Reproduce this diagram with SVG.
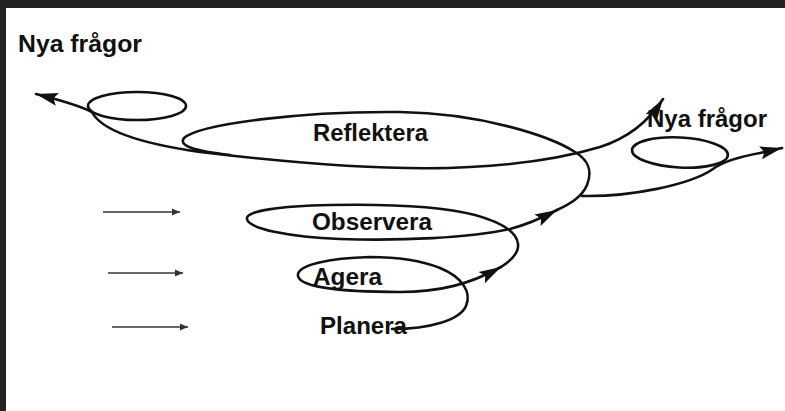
<svg xmlns="http://www.w3.org/2000/svg" width="785" height="411" viewBox="0 0 785 411">
<defs>
<style>
.lbl{font-family:"Liberation Sans",Arial,sans-serif;font-weight:bold;font-size:23px;fill:#111}
.sp{fill:none;stroke:#111;stroke-width:2.6;stroke-linecap:round}
.thin{fill:none;stroke:#333;stroke-width:1.6}
</style>
<marker id="ah" markerUnits="userSpaceOnUse" markerWidth="24" markerHeight="14" refX="22" refY="7" orient="auto">
<path d="M0,0.5 L22,7 L0,13.5 L4,7 Z" fill="#111"/>
</marker>
<marker id="sa" markerUnits="userSpaceOnUse" markerWidth="9" markerHeight="8" refX="8" refY="4" orient="auto">
<path d="M0,0.5 L8,4 L0,7.5 Z" fill="#333"/>
</marker>
</defs>
<rect x="0" y="0" width="785" height="411" fill="#fff"/>
<rect x="0" y="0" width="785" height="8" fill="#222"/>
<rect x="0" y="0" width="6" height="411" fill="#222"/>

<g id="text-nya-fragor-left"><text class="lbl" x="18" y="52" textLength="124" lengthAdjust="spacingAndGlyphs">Nya frågor</text></g>
<g id="node-reflektera"><text class="lbl" x="313" y="141" textLength="115" lengthAdjust="spacingAndGlyphs">Reflektera</text></g>
<g id="node-observera"><text class="lbl" x="312" y="230" textLength="120" lengthAdjust="spacingAndGlyphs">Observera</text></g>
<g id="node-agera"><text class="lbl" x="313" y="285" textLength="69" lengthAdjust="spacingAndGlyphs">Agera</text></g>
<g id="node-planera"><text class="lbl" x="320" y="334" textLength="87" lengthAdjust="spacingAndGlyphs">Planera</text></g>
<g id="text-nya-fragor-right"><text class="lbl" x="647" y="127" textLength="120" lengthAdjust="spacingAndGlyphs">Nya frågor</text></g>

<g id="connectors">
<path class="thin" d="M103,212 L180,212" marker-end="url(#sa)"/>
<path class="thin" d="M108,273 L183,273" marker-end="url(#sa)"/>
<path class="thin" d="M112,327 L188,327" marker-end="url(#sa)"/>

<path class="sp" d="M392,329 C430,329 460,320 466,306 C472,292 462,277 440,268 C420,260 395,257 370,257 C330,258 296,265 298,276 C300,287 340,292 400,292 C440,292 470,284 501,267" marker-end="url(#ah)"/>
<path class="sp" d="M501,267 C512,260 519,252 518,244 C517,232 500,222 475,215 C440,206 380,204 330,205 C280,206 245,211 247,219 C249,229 290,237 340,239 C400,241 470,238 510,229 C525,225 540,219 557,210" marker-end="url(#ah)"/>
<path class="sp" d="M557,210 C570,204 582,197 587,185 C593,170 588,160 575,152 C550,136 480,113 400,112 C300,111 200,124 184,138 C178,146 195,151 230,155"/>
<path class="sp" d="M92,112 C80,106 60,100 36,94" marker-end="url(#ah)"/>
<path class="sp" d="M92,112 C100,128 130,142 200,152 C300,164 400,171 470,167 C530,164 570,156 600,147 C625,139 647,124 663,99" marker-end="url(#ah)"/>
<path class="sp" d="M582,196 C630,197 690,185 713,169 C722,162 738,157 760,153 L782,148" marker-end="url(#ah)"/>
<ellipse class="sp" cx="137" cy="106" rx="49" ry="14"/>
<ellipse class="sp" cx="680" cy="152.5" rx="48" ry="15" transform="rotate(3 680 152.5)"/>
</g>
</svg>
